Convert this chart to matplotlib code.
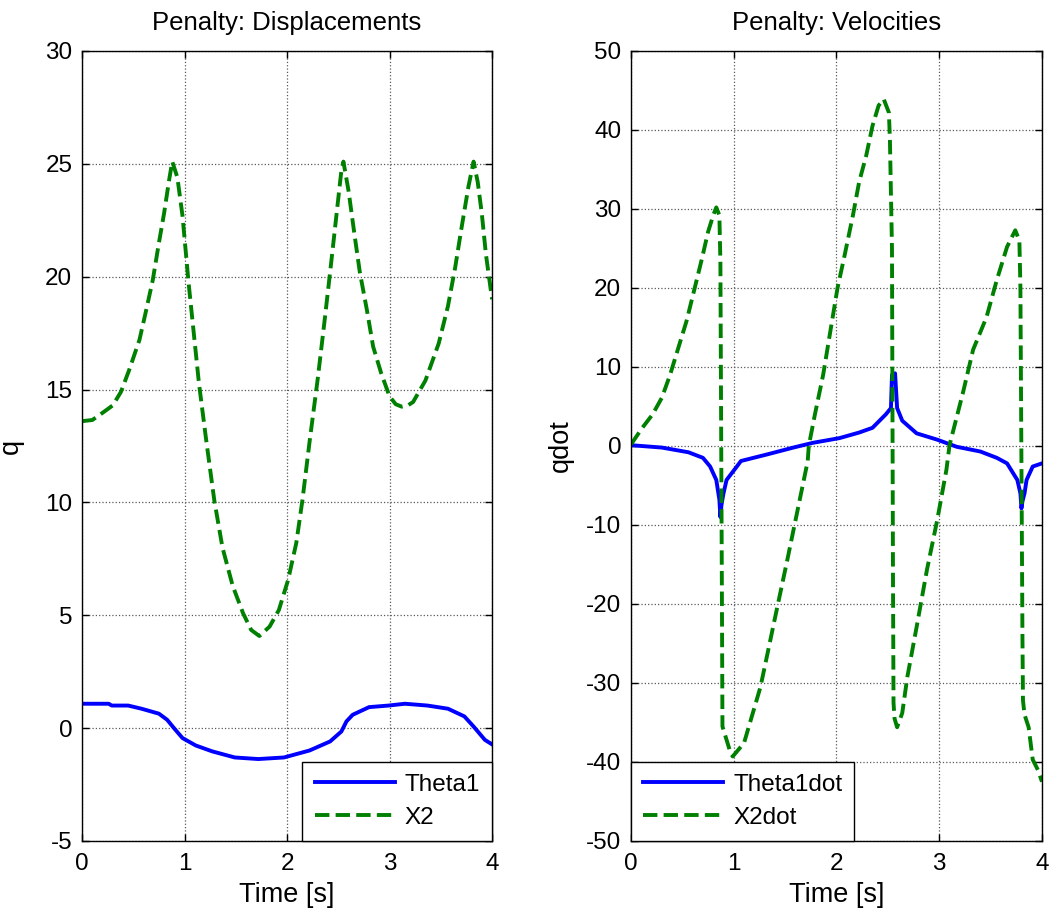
import numpy as np
import matplotlib
matplotlib.use("Agg")
import matplotlib.pyplot as plt

plt.rcParams["font.family"] = ["Liberation Sans", "DejaVu Sans"]
plt.rcParams["axes.unicode_minus"] = False

# ── Displacements ─────────────────────────────────────────────────────────────
t_x2 = [0.0, 0.10, 0.17, 0.30, 0.38, 0.46, 0.56, 0.62, 0.69, 0.75, 0.80, 0.85,
        0.88, 0.93, 0.98, 1.01, 1.04, 1.09, 1.14, 1.21, 1.29, 1.37, 1.47, 1.57,
        1.65, 1.73, 1.83, 1.92, 2.01, 2.09, 2.15, 2.22, 2.30, 2.37, 2.43, 2.48,
        2.53, 2.55, 2.60, 2.66, 2.71, 2.78, 2.84, 2.92, 3.00, 3.06, 3.12, 3.18,
        3.23, 3.35, 3.48, 3.57, 3.64, 3.70, 3.77, 3.82, 3.86, 3.90, 3.94, 3.97,
        3.985, 4.0]
x2 = [13.6, 13.65, 13.87, 14.3, 14.9, 15.87, 17.2, 18.4, 19.85, 21.5, 22.8,
      24.3, 25.1, 24.4, 22.7, 21.2, 19.7, 17.5, 15.3, 12.8, 10.1, 8.0, 6.3, 5.1,
      4.35, 4.08, 4.5, 5.23, 6.56, 8.2, 10.1, 12.7, 15.5, 18.2, 20.6, 22.65,
      24.7, 25.1, 23.8, 21.8, 20.2, 18.5, 16.9, 15.7, 14.7, 14.35, 14.24, 14.3,
      14.45, 15.4, 17.05, 18.7, 20.4, 22.1, 24.0, 25.1, 24.2, 22.8, 21.0, 20.0,
      19.5, 19.0]

t_th1 = [0.0, 0.26, 0.29, 0.45, 0.58, 0.75, 0.83, 0.91, 0.98, 1.11, 1.27, 1.49,
         1.72, 1.97, 2.22, 2.42, 2.53, 2.58, 2.64, 2.80, 2.99, 3.15, 3.37, 3.57,
         3.73, 3.82, 3.93, 4.0]
theta1 = [1.08, 1.08, 1.0, 1.0, 0.86, 0.64, 0.37, -0.07, -0.44, -0.77, -1.03,
          -1.30, -1.37, -1.30, -0.99, -0.59, -0.15, 0.30, 0.59, 0.93, 1.0, 1.08,
          1.0, 0.86, 0.52, 0.07, -0.52, -0.72]

# ── Velocities ────────────────────────────────────────────────────────────────
t_x2d = [0.0, 0.11, 0.21, 0.30, 0.38, 0.46, 0.54, 0.62, 0.69, 0.75, 0.80,
         0.83, 0.86, 0.87, 0.885, 0.89, 0.97, 0.99, 1.10, 1.26, 1.43, 1.52,
         1.62, 1.72, 1.73, 1.79, 1.87, 1.95, 2.01, 2.08, 2.16, 2.22, 2.29,
         2.35, 2.41, 2.46, 2.51, 2.52, 2.54, 2.55, 2.555, 2.565, 2.59, 2.64,
         2.69, 2.78, 2.88, 2.98, 3.07, 3.10, 3.23, 3.33, 3.46, 3.56, 3.66,
         3.74, 3.78, 3.79, 3.81, 3.815, 3.83, 3.87, 3.91, 3.96, 4.0]
x2dot = [0.2, 2.3, 4.0, 6.1, 9.0, 12.4, 15.8, 20.0, 23.7, 27.1, 29.2, 30.2,
         29.2, 23.3, -20.0, -35.5, -38.9, -39.3, -37.6, -30.5, -20.0, -14.5,
         -8.2, -1.9, 0.0, 4.0, 9.0, 15.3, 20.0, 24.2, 29.2, 33.4, 36.8, 40.5,
         43.1, 43.9, 42.2, 38.7, 25.0, -17.3, -32.5, -34.5, -35.6, -33.8,
         -29.2, -22.9, -15.7, -9.4, -3.0, 0.1, 6.7, 12.2, 16.3, 21.0, 25.2,
         27.3, 26.0, 20.1, -24.2, -32.2, -34.0, -35.6, -39.7, -41.0, -42.5]

t_th1d = [0.0, 0.30, 0.56, 0.70, 0.77, 0.83, 0.86, 0.87, 0.88, 0.90, 0.93,
          1.03, 1.07, 1.33, 1.58, 1.77, 2.03, 2.22, 2.35, 2.48, 2.53, 2.54,
          2.57, 2.59, 2.64, 2.78, 2.98, 3.17, 3.40, 3.56, 3.66, 3.76, 3.79,
          3.80, 3.81, 3.83, 3.85, 3.91, 4.0]
theta1dot = [0.1, -0.2, -0.8, -1.5, -2.6, -4.3, -6.8, -9.0, -7.5, -6.0, -4.3,
             -2.6, -1.9, -1.05, -0.2, 0.4, 1.0, 1.7, 2.3, 4.0, 4.8, 9.0,
             9.2, 4.8, 3.2, 1.6, 0.8, -0.1, -0.7, -1.5, -2.2, -4.3, -6.0,
             -7.9, -7.0, -6.0, -4.3, -2.6, -2.2]

BLUE = (0, 0, 1)
GREEN = (0, 0.5, 0)
FS = 17.5


def style(ax, ylim, yticks):
    ax.set_xlim(0, 4)
    ax.set_ylim(*ylim)
    ax.set_xticks(range(5))
    ax.set_yticks(yticks)
    ax.tick_params(direction="in", top=True, right=True, length=5,
                   width=1, labelsize=FS, pad=7)
    ax.tick_params(axis="x", pad=9)
    ax.grid(True, linestyle=":", color="0.35", linewidth=0.9)
    for s in ax.spines.values():
        s.set_linewidth(1)
    ax.set_xlabel("Time [s]", fontsize=19.5, labelpad=5)


fig = plt.figure(figsize=(10.6, 9.17), dpi=100)
ax1 = fig.add_axes([0.0774, 0.0829, 0.3868, 0.8615])
ax2 = fig.add_axes([0.5953, 0.0829, 0.3877, 0.8615])

ax1.plot(t_th1, theta1, color=BLUE, lw=2.8, label="Theta1")
ax1.plot(t_x2, x2, color=GREEN, lw=2.8, ls="--", label="X2")
style(ax1, (-5, 30), range(-5, 31, 5))
ax1.set_ylabel("q", fontsize=19.5, labelpad=15)
ax1.set_title("Penalty: Displacements", fontsize=18.5, pad=15)

ax2.plot(t_th1d, theta1dot, color=BLUE, lw=2.8, label="Theta1dot")
ax2.plot(t_x2d, x2dot, color=GREEN, lw=2.8, ls="--", label="X2dot")
style(ax2, (-50, 50), range(-50, 51, 10))
ax2.set_ylabel("qdot", fontsize=19.5, labelpad=9)
ax2.set_title("Penalty: Velocities", fontsize=18.5, pad=15)

for ax, loc in [(ax1, "lower right"), (ax2, "lower left")]:
    leg = ax.legend(loc=loc, fontsize=FS, borderaxespad=0, fancybox=False,
                    edgecolor="k", framealpha=1, handlelength=3.3,
                    handletextpad=0.4, labelspacing=0.45, borderpad=0.5)
    leg.get_frame().set_linewidth(1)

fig.savefig("out.png", dpi=100)
